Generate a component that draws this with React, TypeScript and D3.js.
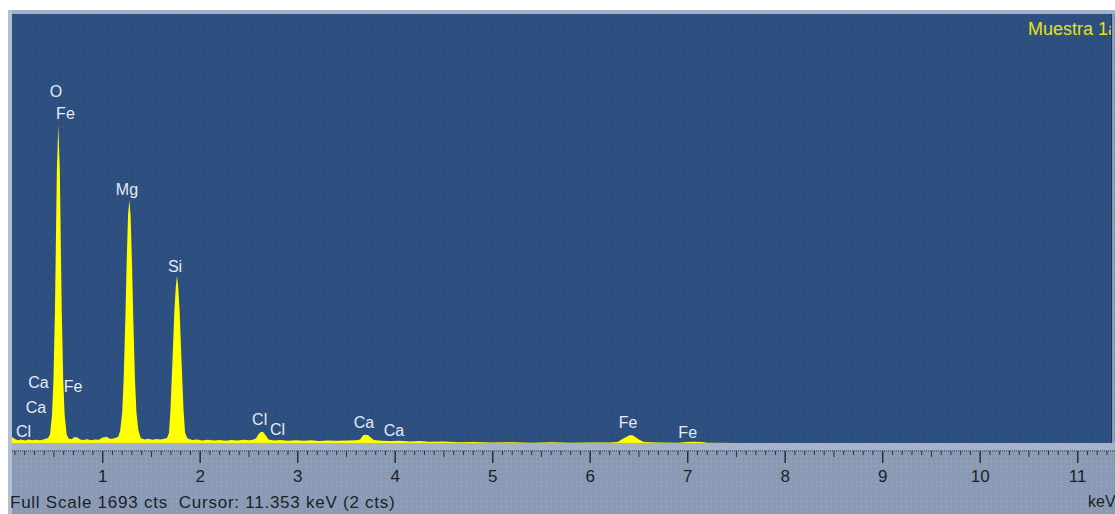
import * as d3 from 'd3'

// EDS spectrum: [keV, counts]
const spectrum: [number, number][] = [
  [0.07, 24], [0.1, 16], [0.13, 11], [0.16, 14], [0.2, 10], [0.24, 14], [0.28, 11], [0.32, 13],
  [0.36, 11], [0.4, 15], [0.44, 20], [0.46, 35], [0.48, 110], [0.495, 250], [0.51, 520],
  [0.52, 800], [0.53, 1080], [0.545, 1255], [0.56, 1080], [0.57, 800], [0.58, 520], [0.595, 250],
  [0.61, 110], [0.63, 35], [0.65, 18], [0.68, 15], [0.71, 24], [0.74, 22], [0.77, 14],
  [0.8, 12], [0.84, 15], [0.88, 11], [0.92, 14], [0.96, 13], [1.0, 22], [1.04, 25], [1.08, 16],
  [1.12, 19], [1.16, 25], [1.18, 50], [1.2, 120], [1.215, 250], [1.232, 485], [1.245, 700],
  [1.26, 900], [1.273, 959], [1.286, 900], [1.301, 700], [1.314, 485], [1.331, 250],
  [1.346, 120], [1.366, 50], [1.39, 20], [1.43, 14], [1.47, 17], [1.51, 13], [1.55, 16],
  [1.59, 14], [1.63, 17], [1.66, 20], [1.68, 40], [1.695, 130], [1.716, 330], [1.735, 520],
  [1.75, 620], [1.762, 659], [1.774, 620], [1.789, 520], [1.808, 330], [1.829, 130],
  [1.845, 40], [1.87, 18], [1.92, 12], [1.97, 14], [2.02, 10], [2.08, 13], [2.14, 10],
  [2.2, 12], [2.26, 9], [2.32, 12], [2.38, 10], [2.44, 13], [2.5, 11], [2.54, 13], [2.57, 18],
  [2.6, 36], [2.62, 43], [2.645, 43], [2.67, 32], [2.7, 14], [2.76, 10], [2.82, 12], [2.9, 9],
  [2.98, 11], [3.06, 9], [3.14, 11], [3.22, 8], [3.3, 10], [3.4, 9], [3.5, 10], [3.6, 11],
  [3.64, 14], [3.67, 30], [3.69, 33], [3.72, 32], [3.75, 22], [3.78, 12], [3.86, 9], [3.95, 8],
  [4.05, 9], [4.15, 6], [4.25, 8], [4.35, 5], [4.5, 6], [4.65, 3], [4.8, 4], [5.0, 2],
  [5.2, 3], [5.4, 1], [5.6, 3], [5.8, 1], [6.0, 2], [6.2, 2], [6.28, 4], [6.34, 18],
  [6.41, 32], [6.44, 30], [6.5, 14], [6.55, 4], [6.7, 2], [6.9, 1], [6.99, 4], [7.05, 5],
  [7.15, 4], [7.2, 1], [7.5, 0], [8.0, 0], [11.4, 0],
]

// label text, energy and label height (counts)
const peakLabels = [
  { el: 'O', keV: 0.521, cts: 1365 },
  { el: 'Fe', keV: 0.618, cts: 1279 },
  { el: 'Mg', keV: 1.249, cts: 979 },
  { el: 'Si', keV: 1.742, cts: 675 },
  { el: 'Ca', keV: 0.342, cts: 217 },
  { el: 'Fe', keV: 0.695, cts: 201 },
  { el: 'Ca', keV: 0.316, cts: 118 },
  { el: 'Cl', keV: 0.188, cts: 24 },
  { el: 'Cl', keV: 2.61, cts: 71 },
  { el: 'Cl', keV: 2.793, cts: 32 },
  { el: 'Ca', keV: 3.68, cts: 59 },
  { el: 'Ca', keV: 3.988, cts: 28 },
  { el: 'Fe', keV: 6.388, cts: 59 },
  { el: 'Fe', keV: 7.0, cts: 20 },
]

const tickLabels = [1, 2, 3, 4, 5, 6, 7, 8, 9, 10, 11]
const fullScale = 1693
const cursorKeV = 11.353
const cursorCts = 2
const sampleName = 'Muestra 1a'

const W = 1115
const H = 514
const plot = { left: 12, right: 1111, top: 14, bottom: 443 }
const font = '"Liberation Sans", Arial, sans-serif'

export default function App() {
  const x = d3.scaleLinear().domain([0, 11]).range([5.2, 1077.7])
  const y = d3.scaleLinear().domain([0, fullScale]).range([plot.bottom, plot.top])

  const area = d3
    .area<[number, number]>()
    .x(d => x(d[0]))
    .y0(y(0))
    .y1(d => y(d[1]))
    .curve(d3.curveLinear)

  const minor = d3.range(1, 115).map(i => i / 10)

  return (
    <svg width={W} height={H} style={{ position: 'absolute', left: 0, top: 0, display: 'block' }}>
      <defs>
        <pattern id="speckBlue" width="6" height="6" patternUnits="userSpaceOnUse">
          <rect width="6" height="6" fill="#2d5081" />
          <rect x="1" y="2" width="1" height="1" fill="#24437a" />
          <rect x="4" y="5" width="1" height="1" fill="#26467c" />
          <rect x="3" y="0" width="1" height="1" fill="#335888" />
        </pattern>
        <pattern id="speckGrey" width="5" height="5" patternUnits="userSpaceOnUse">
          <rect width="5" height="5" fill="#8b9bb6" />
          <rect x="1" y="1" width="1" height="1" fill="#9cacc4" />
          <rect x="3" y="3" width="1" height="1" fill="#8294b2" />
        </pattern>
        <clipPath id="plotClip">
          <rect x={plot.left} y={plot.top} width={plot.right - plot.left} height={plot.bottom - plot.top} />
        </clipPath>
      </defs>

      <rect width={W} height={H} fill="#ffffff" />
      {/* panel */}
      <rect x={8} y={10} width={W - 8} height={H - 10} fill="url(#speckGrey)" />
      <rect x={8} y={10} width={W - 8} height={4} fill="#a3b1c8" />
      <rect x={8} y={10} width={4} height={H - 10} fill="#b3bfd1" />
      <rect x={plot.left} y={plot.bottom} width={W - plot.left} height={7} fill="#a5b2c8" />

      {/* plot area */}
      <rect
        x={plot.left}
        y={plot.top}
        width={plot.right - plot.left}
        height={plot.bottom - plot.top}
        fill="url(#speckBlue)"
      />
      <line x1={plot.right + 0.5} x2={plot.right + 0.5} y1={plot.top} y2={plot.bottom} stroke="#1d3458" />

      <g clipPath="url(#plotClip)">
        <path d={area(spectrum) || ''} fill="#ffff00" />
        {peakLabels.map((p, i) => (
          <text
            key={i}
            x={x(p.keV)}
            y={y(p.cts)}
            textAnchor="middle"
            fontFamily={font}
            fontSize={16}
            fill="#e6eaf2"
          >
            {p.el}
          </text>
        ))}
        <text x={1028} y={35} fontFamily={font} fontSize={18} fill="#e2e21c">
          {sampleName}
        </text>
      </g>

      {/* energy axis */}
      <line x1={plot.left} x2={W} y1={451} y2={451} stroke="#3a4255" strokeWidth={1} strokeDasharray="1 1" />
      {minor.map(v => {
        const major = Math.abs(v - Math.round(v)) < 1e-6
        const half = Math.abs(v * 2 - Math.round(v * 2)) < 1e-6
        return (
          <line
            key={v}
            x1={x(v)}
            x2={x(v)}
            y1={451}
            y2={major ? 463 : half ? 457 : 455}
            stroke="#2a2f3c"
            strokeWidth={major ? 1.5 : 1}
          />
        )
      })}
      {tickLabels.map(t => (
        <text key={t} x={x(t)} y={482} textAnchor="middle" fontFamily={font} fontSize={17} fill="#1c1f27">
          {t}
        </text>
      ))}
      <text x={1088} y={507} fontFamily={font} fontSize={16} fill="#1c1f27">
        keV
      </text>
      <text x={10} y={508} fontFamily={font} fontSize={17} fill="#1c1f27" letterSpacing={0.75}>
        {`Full Scale ${fullScale} cts\u00a0 Cursor: ${cursorKeV} keV (${cursorCts} cts)`}
      </text>
    </svg>
  )
}
